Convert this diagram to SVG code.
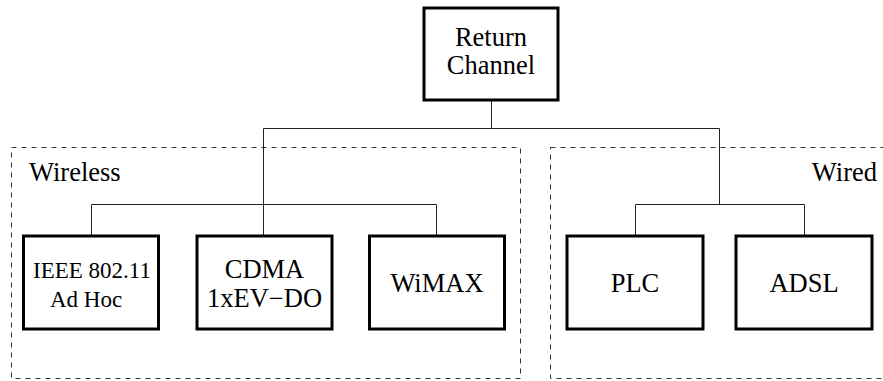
<svg xmlns="http://www.w3.org/2000/svg" width="883" height="381" viewBox="0 0 883 381">
<style>
.node{fill:#fff;stroke:#000;stroke-width:3}
.grp{fill:none;stroke:#333;stroke-width:1;stroke-dasharray:5 5}
.conn{fill:none;stroke:#222;stroke-width:1}
.t{font-family:'Liberation Serif',serif;font-size:26.5px;fill:#000}
.s{font-size:23px}
.c{text-anchor:middle}
</style>
<rect width="883" height="381" fill="#fff"/>
<g id="group-wireless">
<rect class="grp" x="11.5" y="147.5" width="509" height="231"/>
<text class="t" x="29" y="181">Wireless</text>
</g>
<g id="group-wired">
<rect class="grp" x="550.5" y="147.5" width="345" height="231"/>
<text class="t" x="877" y="181" text-anchor="end">Wired</text>
</g>
<g id="connectors">
<path class="conn" d="M491.5 100V128.5M263.5 128.5H719.5M263.5 128.5V236M91.5 204.5H436.5M91.5 204.5V236M436.5 204.5V236M719.5 128.5V204.5M635.5 204.5H804.5M635.5 204.5V236M804.5 204.5V236"/>
</g>
<g id="return-channel">
<rect class="node" x="424" y="8" width="134" height="92"/>
<text class="t c" x="491" y="46">Return</text>
<text class="t c" x="491" y="74">Channel</text>
</g>
<g id="ieee">
<rect class="node" x="23.5" y="236" width="135" height="93"/>
<text class="t s c" x="92" y="278">IEEE 802.11</text>
<text class="t s c" x="86" y="307">Ad Hoc</text>
</g>
<g id="cdma">
<rect class="node" x="197" y="236" width="135" height="93"/>
<text class="t c" x="264.5" y="278">CDMA</text>
<text class="t c" x="264.5" y="307">1xEV−DO</text>
</g>
<g id="wimax">
<rect class="node" x="369.5" y="236" width="135" height="93"/>
<text class="t c" x="437" y="292">WiMAX</text>
</g>
<g id="plc">
<rect class="node" x="567" y="236" width="136" height="93"/>
<text class="t c" x="635" y="292">PLC</text>
</g>
<g id="adsl">
<rect class="node" x="736" y="236" width="136" height="93"/>
<text class="t c" x="804" y="292">ADSL</text>
</g>
</svg>
